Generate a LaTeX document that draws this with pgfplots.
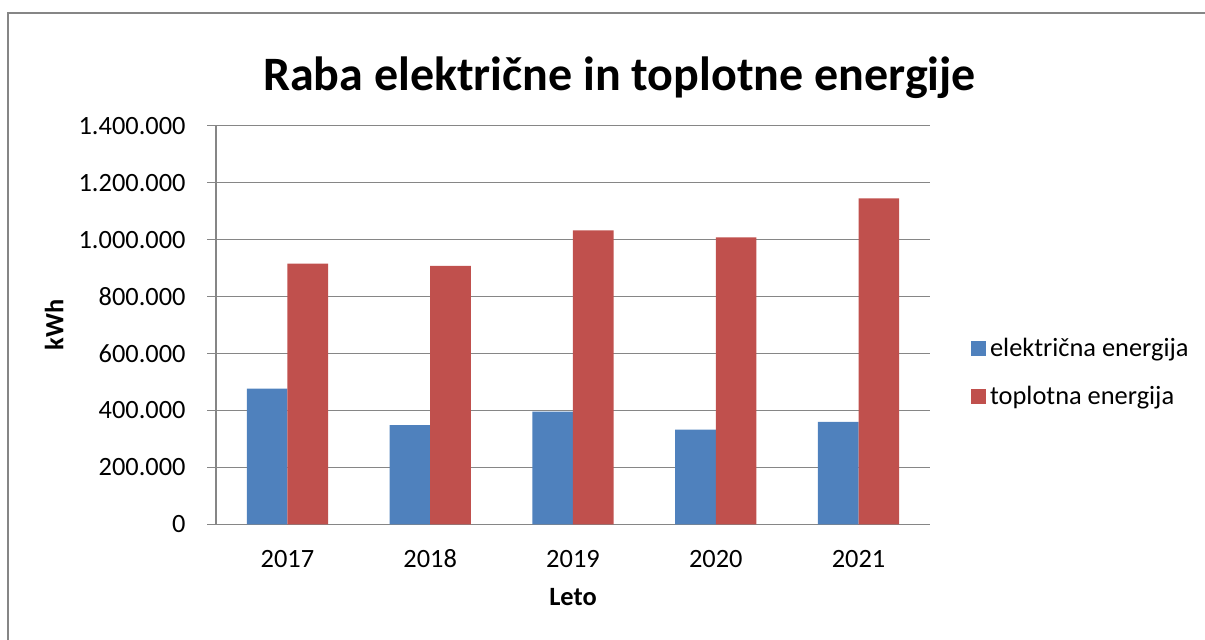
\documentclass[border=0pt]{standalone}
\usepackage{fontspec}
\setmainfont{Carlito}
\usepackage{pgfplots}
\pgfplotsset{compat=1.18}
\definecolor{cblue}{HTML}{4F81BD}
\definecolor{cred}{HTML}{C0504D}
\definecolor{cgrid}{HTML}{868686}
\pgfplotstableread{
x elek toplo
0 477000 916000
1 348000 908000
2 396000 1032000
3 333000 1008000
4 360000 1145000
}\datatable
\begin{document}
\begin{tikzpicture}[x=1pt,y=1pt]
\useasboundingbox (0pt,0pt) rectangle (602.5pt,-319.5pt);
\draw[cgrid, line width=0.75pt] (4pt,-400pt) -- (4pt,-6.5pt) -- (700pt,-6.5pt);
\node[font=\fontsize{24}{28}\selectfont\bfseries, anchor=base] at (309.75pt,-45pt) {Raba električne in toplotne energije};
\node[font=\fontsize{13.2}{16}\selectfont\bfseries, rotate=90] at (27pt,-162.5pt) {kWh};
\node[font=\fontsize{13.2}{16}\selectfont\bfseries, anchor=base] at (286.5pt,-302.5pt) {Leto};
\begin{axis}[
  at={(108pt,-262.15pt)}, anchor=south west,
  scale only axis, width=357pt, height=199.3pt,
  ymin=0, ymax=1400000, ytick={0,200000,...,1400000},
  xmin=-0.5, xmax=4.5, xtick={0,1,2,3,4}, xticklabels={2017,2018,2019,2020,2021},
  ybar=0pt, bar width=20.3pt,
  axis x line*=bottom, axis y line*=left,
  axis line style={cgrid, line width=0.75pt, -},
  ymajorgrids, grid style={cgrid, line width=0.75pt},
  tick align=outside, major tick length=4.5pt,
  xtick style={draw=none},
  ytick style={cgrid, line width=0.75pt},
  scaled y ticks=false,
  /pgf/number format/.cd, fixed, 1000 sep={.}, assume math mode=true,
  /pgfplots/.cd,
  tick label style={font=\fontsize{13.2}{16}\selectfont},
  xticklabel style={anchor=north, inner ysep=0pt, text height=8.4pt, text depth=0pt, yshift=-8.3pt},
  yticklabel style={anchor=east, inner xsep=0pt, xshift=-10.5pt},
  legend style={draw=none, fill=none, at={(axis description cs:1.057,0.479)}, anchor=north west,
    font=\fontsize{13.2}{16}\selectfont, row sep=9.5pt, inner sep=0pt},
  legend cell align=left,
  legend image code/.code={\fill[#1] (0pt,-3.75pt) rectangle (7.5pt,3.75pt);},
]
\addplot[fill=cblue, draw=none] table[x=x, y=elek] {\datatable};
\addplot[fill=cred, draw=none] table[x=x, y=toplo] {\datatable};
\legend{električna energija, toplotna energija}
\end{axis}
\end{tikzpicture}
\end{document}
